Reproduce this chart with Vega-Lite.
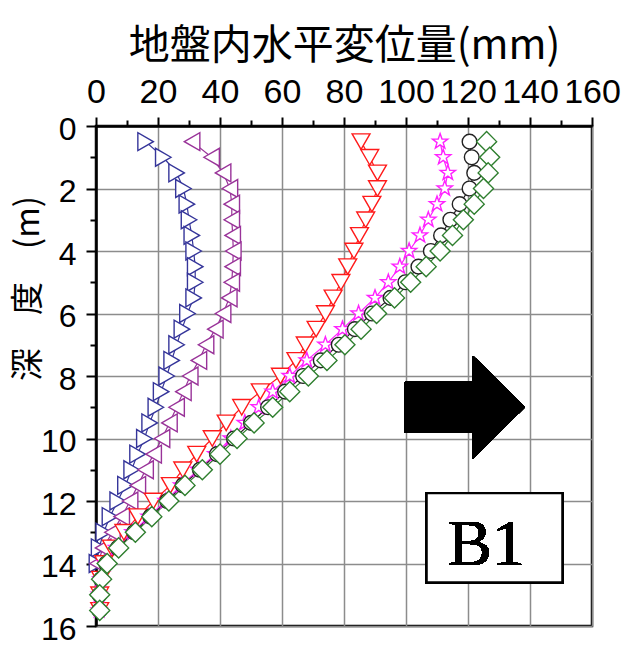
{
  "$schema": "https://vega.github.io/schema/vega-lite/v6.json",
  "width": 496,
  "height": 500,
  "autosize": {"type": "none"},
  "padding": {"left": 96, "top": 126, "right": 32, "bottom": 23},
  "background": "white",
  "config": {
    "view": {"stroke": "#000", "strokeWidth": 2.5},
    "axis": {"domainColor": "#000", "domainWidth": 2.5, "tickColor": "#000", "tickWidth": 2, "labelColor": "#000", "titleColor": "#000", "titleFontWeight": "normal", "gridColor": "#8c8c8c", "gridWidth": 1.5}
  },
  "data": {"values": [
    {"s":"s1","d":0.5,"v":16},{"s":"s1","d":1,"v":21.7},{"s":"s1","d":1.5,"v":26},{"s":"s1","d":2,"v":28.2},{"s":"s1","d":2.5,"v":29.3},{"s":"s1","d":3,"v":30},{"s":"s1","d":3.5,"v":30.9},{"s":"s1","d":4,"v":31.5},{"s":"s1","d":4.5,"v":32},{"s":"s1","d":5,"v":32},{"s":"s1","d":5.5,"v":31.5},{"s":"s1","d":6,"v":29.5},{"s":"s1","d":6.5,"v":27.7},{"s":"s1","d":7,"v":26},{"s":"s1","d":7.5,"v":24.4},{"s":"s1","d":8,"v":22.8},{"s":"s1","d":8.5,"v":21},{"s":"s1","d":9,"v":19.3},{"s":"s1","d":9.5,"v":17.3},{"s":"s1","d":10,"v":15.6},{"s":"s1","d":10.5,"v":13.4},{"s":"s1","d":11,"v":11.5},{"s":"s1","d":11.5,"v":9.5},{"s":"s1","d":12,"v":7},{"s":"s1","d":12.5,"v":4.5},{"s":"s1","d":13,"v":2.5},{"s":"s1","d":13.5,"v":1},{"s":"s1","d":14,"v":0.3},
    {"s":"s2","d":0.5,"v":31},{"s":"s2","d":1,"v":37.3},{"s":"s2","d":1.5,"v":41},{"s":"s2","d":2,"v":43.2},{"s":"s2","d":2.5,"v":43.8},{"s":"s2","d":3,"v":43.8},{"s":"s2","d":3.5,"v":44.1},{"s":"s2","d":4,"v":44.3},{"s":"s2","d":4.5,"v":44.1},{"s":"s2","d":5,"v":43.8},{"s":"s2","d":5.5,"v":43},{"s":"s2","d":6,"v":41},{"s":"s2","d":6.5,"v":38.5},{"s":"s2","d":7,"v":35.5},{"s":"s2","d":7.5,"v":33.2},{"s":"s2","d":8,"v":30.4},{"s":"s2","d":8.5,"v":28.2},{"s":"s2","d":9,"v":26},{"s":"s2","d":9.5,"v":23.7},{"s":"s2","d":10,"v":21.3},{"s":"s2","d":10.5,"v":18.6},{"s":"s2","d":11,"v":16},{"s":"s2","d":11.5,"v":13.5},{"s":"s2","d":12,"v":11},{"s":"s2","d":12.5,"v":8.3},{"s":"s2","d":13,"v":5.3},{"s":"s2","d":13.5,"v":2.3},{"s":"s2","d":14,"v":0.5},
    {"s":"s3","d":0.5,"v":85.5},{"s":"s3","d":1,"v":88.3},{"s":"s3","d":1.5,"v":90.8},{"s":"s3","d":2,"v":90.8},{"s":"s3","d":2.5,"v":89},{"s":"s3","d":3,"v":87},{"s":"s3","d":3.5,"v":85},{"s":"s3","d":4,"v":83.2},{"s":"s3","d":4.5,"v":81.2},{"s":"s3","d":5,"v":79},{"s":"s3","d":5.5,"v":76.5},{"s":"s3","d":6,"v":74},{"s":"s3","d":6.5,"v":71},{"s":"s3","d":7,"v":67.5},{"s":"s3","d":7.5,"v":64.5},{"s":"s3","d":8,"v":59.5},{"s":"s3","d":8.5,"v":53},{"s":"s3","d":9,"v":47},{"s":"s3","d":9.5,"v":42},{"s":"s3","d":10,"v":37.5},{"s":"s3","d":10.5,"v":32.5},{"s":"s3","d":11,"v":28},{"s":"s3","d":11.5,"v":24},{"s":"s3","d":12,"v":18.5},{"s":"s3","d":12.5,"v":13.5},{"s":"s3","d":13,"v":9},{"s":"s3","d":13.5,"v":5},{"s":"s3","d":14,"v":2.5},{"s":"s3","d":14.5,"v":1.5},{"s":"s3","d":15,"v":1.2},{"s":"s3","d":15.5,"v":1.2},
    {"s":"s4","d":0.5,"v":111},{"s":"s4","d":1,"v":112},{"s":"s4","d":1.5,"v":113.5},{"s":"s4","d":2,"v":112.5},{"s":"s4","d":2.5,"v":110},{"s":"s4","d":3,"v":107.2},{"s":"s4","d":3.5,"v":104.5},{"s":"s4","d":4,"v":101},{"s":"s4","d":4.5,"v":98},{"s":"s4","d":5,"v":94.3},{"s":"s4","d":5.5,"v":90},{"s":"s4","d":6,"v":84.7},{"s":"s4","d":6.5,"v":79.5},{"s":"s4","d":7,"v":74},{"s":"s4","d":7.5,"v":68},{"s":"s4","d":8,"v":62.5},{"s":"s4","d":8.5,"v":57},{"s":"s4","d":9,"v":52.5},{"s":"s4","d":9.5,"v":48},{"s":"s4","d":10,"v":43.5},{"s":"s4","d":10.5,"v":38.5},{"s":"s4","d":11,"v":33},{"s":"s4","d":11.5,"v":27.5},{"s":"s4","d":12,"v":22.5},{"s":"s4","d":12.5,"v":17},{"s":"s4","d":13,"v":11.8},{"s":"s4","d":13.5,"v":6.5},{"s":"s4","d":14,"v":3},{"s":"s4","d":14.5,"v":1.5},{"s":"s4","d":15,"v":1},{"s":"s4","d":15.5,"v":1},
    {"s":"s5","d":0.5,"v":120.5},{"s":"s5","d":1,"v":121.2},{"s":"s5","d":1.5,"v":122},{"s":"s5","d":2,"v":120.5},{"s":"s5","d":2.5,"v":117.3},{"s":"s5","d":3,"v":114.3},{"s":"s5","d":3.5,"v":111.3},{"s":"s5","d":4,"v":108},{"s":"s5","d":4.5,"v":104},{"s":"s5","d":5,"v":99.8},{"s":"s5","d":5.5,"v":95},{"s":"s5","d":6,"v":89},{"s":"s5","d":6.5,"v":83.5},{"s":"s5","d":7,"v":78.3},{"s":"s5","d":7.5,"v":72.5},{"s":"s5","d":8,"v":66.8},{"s":"s5","d":8.5,"v":61},{"s":"s5","d":9,"v":55.5},{"s":"s5","d":9.5,"v":50},{"s":"s5","d":10,"v":44.5},{"s":"s5","d":10.5,"v":39},{"s":"s5","d":11,"v":33.5},{"s":"s5","d":11.5,"v":28},{"s":"s5","d":12,"v":23},{"s":"s5","d":12.5,"v":17.5},{"s":"s5","d":13,"v":12.3},{"s":"s5","d":13.5,"v":7},{"s":"s5","d":14,"v":3.3},{"s":"s5","d":14.5,"v":1.6},{"s":"s5","d":15,"v":1.1},{"s":"s5","d":15.5,"v":1.1},
    {"s":"s6","d":0.5,"v":126},{"s":"s6","d":1,"v":127},{"s":"s6","d":1.5,"v":126.5},{"s":"s6","d":2,"v":125},{"s":"s6","d":2.5,"v":122},{"s":"s6","d":3,"v":118.5},{"s":"s6","d":3.5,"v":115},{"s":"s6","d":4,"v":111},{"s":"s6","d":4.5,"v":106.5},{"s":"s6","d":5,"v":101.5},{"s":"s6","d":5.5,"v":96.3},{"s":"s6","d":6,"v":90.5},{"s":"s6","d":6.5,"v":85.5},{"s":"s6","d":7,"v":80.3},{"s":"s6","d":7.5,"v":74.5},{"s":"s6","d":8,"v":68.5},{"s":"s6","d":8.5,"v":62.5},{"s":"s6","d":9,"v":57},{"s":"s6","d":9.5,"v":51},{"s":"s6","d":10,"v":45.5},{"s":"s6","d":10.5,"v":40},{"s":"s6","d":11,"v":34.3},{"s":"s6","d":11.5,"v":28.7},{"s":"s6","d":12,"v":23.5},{"s":"s6","d":12.5,"v":18},{"s":"s6","d":13,"v":12.7},{"s":"s6","d":13.5,"v":7.3},{"s":"s6","d":14,"v":3.6},{"s":"s6","d":14.5,"v":1.8},{"s":"s6","d":15,"v":1.2},{"s":"s6","d":15.5,"v":1.2}
  ]},
  "encoding": {
    "x": {"field": "v", "type": "quantitative",
      "scale": {"domain": [0, 160], "nice": false, "zero": false},
      "axis": {
        "orient": "top",
        "values": [0,10,20,30,40,50,60,70,80,90,100,110,120,130,140,150,160],
        "labelExpr": "datum.value % 20 === 0 ? datum.label : ''",
        "labelFont": "Liberation Sans", "labelFontSize": 34, "labelBaseline": "alphabetic",
        "labelPadding": 15, "labelFlush": false, "labelOverlap": false, "labelBound": false,
        "tickSize": {"condition": {"test": "datum.value % 20 === 0", "value": 9}, "value": 6},
        "grid": true,
        "gridOpacity": {"condition": {"test": "datum.value % 20 === 0", "value": 1}, "value": 0},
        "title": "地盤内水平変位量(mm)",
        "titleFont": "Noto Sans CJK JP", "titleFontSize": 41,
        "titleX": 248, "titleY": -80, "titleAlign": "center", "titleBaseline": "middle", "titleAnchor": null
      }
    },
    "y": {"field": "d", "type": "quantitative",
      "scale": {"domain": [0, 16], "reverse": true, "nice": false, "zero": false},
      "axis": {
        "orient": "left",
        "values": [0,1,2,3,4,5,6,7,8,9,10,11,12,13,14,15,16],
        "labelExpr": "datum.value % 2 === 0 ? datum.label : ''",
        "labelFont": "Liberation Sans", "labelFontSize": 32, "labelBaseline": "middle",
        "labelPadding": 10, "labelOffset": 3, "labelOverlap": false, "labelBound": false, "labelFlush": false,
        "tickSize": {"condition": {"test": "datum.value % 2 === 0", "value": 10}, "value": 6},
        "grid": true,
        "gridOpacity": {"condition": {"test": "datum.value % 2 === 0", "value": 1}, "value": 0},
        "title": "深　度　(m)",
        "titleFont": "Noto Sans CJK JP", "titleFontSize": 33,
        "titleX": -68, "titleY": 162, "titleAngle": -90, "titleAlign": "center", "titleBaseline": "middle", "titleAnchor": null
      }
    }
  },
  "layer": [
    {
      "mark": {"type": "line", "strokeWidth": 1.2},
      "encoding": {
        "color": {"field": "s", "type": "nominal", "legend": null,
          "scale": {"domain": ["s1","s2","s3","s4","s5","s6"], "range": ["#35359a","#993399","#ff1a1a","#ff22ff","#222222","#2f7f2f"]}},
        "order": {"field": "d", "type": "quantitative"}
      }
    },
    {
      "mark": {"type": "point", "filled": false, "fill": "white", "fillOpacity": 1, "strokeWidth": 1.4, "size": 320, "opacity": 1},
      "encoding": {
        "stroke": {"field": "s", "type": "nominal", "legend": null,
          "scale": {"domain": ["s1","s2","s3","s4","s5","s6"], "range": ["#35359a","#993399","#ff1a1a","#ff22ff","#222222","#2f7f2f"]}},
        "shape": {"field": "s", "type": "nominal", "legend": null,
          "scale": {"domain": ["s1","s2","s3","s4","s5","s6"], "range": [
            "triangle-right", "triangle-left", "triangle-down",
            "M0,-0.9L0.2116,-0.2912L0.856,-0.2781L0.3424,0.1112L0.529,0.7281L0,0.36L-0.529,0.7281L-0.3424,0.1112L-0.856,-0.2781L-0.2116,-0.2912Z",
            "M-0.82,0A0.82,0.82 0 1,0 0.82,0A0.82,0.82 0 1,0 -0.82,0Z",
            "M-1.12,0L0,-1.12L1.12,0L0,1.12Z"
          ]}}
      }
    },
    {
      "mark": {"type": "point", "filled": true, "fill": "#000", "stroke": null, "opacity": 1, "size": 14400,
        "shape": "M-1,-0.425L0.133,-0.425L0.133,-0.858L1,0L0.133,0.858L0.133,0.425L-1,0.425Z"},
      "encoding": {"x": {"datum": 119}, "y": {"datum": 9}}
    },
    {
      "mark": {"type": "rect", "fill": "white", "stroke": "#000", "strokeWidth": 2},
      "encoding": {"x": {"datum": 106.7}, "x2": {"datum": 150.4}, "y": {"datum": 11.75}, "y2": {"datum": 14.6}}
    },
    {
      "mark": {"type": "text", "text": "B1", "font": "Liberation Serif", "fontSize": 66, "fontWeight": "normal", "align": "center", "baseline": "alphabetic", "color": "#000"},
      "encoding": {"x": {"datum": 126}, "y": {"datum": 14.05}}
    }
  ]
}
